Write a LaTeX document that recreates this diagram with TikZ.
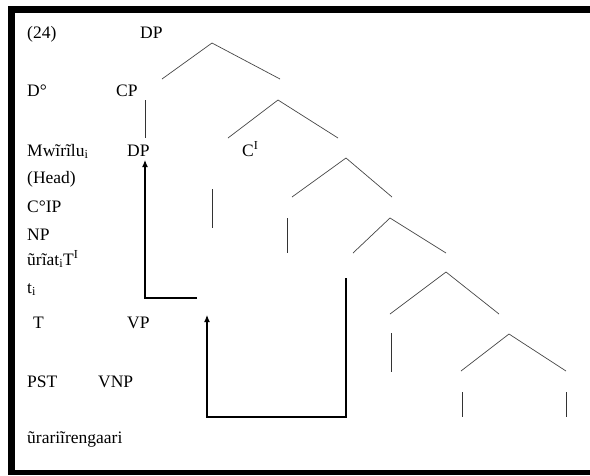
\documentclass[tikz,border=0pt]{standalone}
\usepackage{fontspec}
\setmainfont{Liberation Serif}
\usetikzlibrary{arrows.meta}

\begin{document}
\begin{tikzpicture}[x=1pt,y=-1pt,
    lbl/.style={anchor=base west,inner sep=0pt,font=\fontsize{17.5}{20}\selectfont},
    branch/.style={gray!55!black,line width=0.7pt},
    stem/.style={black!80,line width=0.9pt},
    move/.style={-{Latex[length=7pt,width=6pt]},line width=1.1pt}]
    \useasboundingbox (0,0) rectangle (590,475);

    % Frame
    \fill (8,6) rectangle (590,13);
    \fill (8,6) rectangle (15,475);
    \fill (8,470) rectangle (590,475);

    % Labels
    \node[lbl] (ex) at (27,38) {(24)};
    \node[lbl] (dpTop) at (140,38) {DP};
    \node[lbl] (dHead) at (27,96) {D°};
    \node[lbl] (cp) at (116,96) {CP};
    \node[lbl] (mwirilu) at (27,156) {Mwĩrĩlu\textsubscript{i}};
    \node[lbl] (dp) at (127,156) {DP};
    \node[lbl] (cbar) at (242,156) {C\textsuperscript{I}};
    \node[lbl] (head) at (27,183) {(Head)};
    \node[lbl] (cip) at (27,212) {C°IP};
    \node[lbl] (np) at (27,240) {NP};
    \node[lbl] (uriat) at (27,265) {ũrĩat\textsubscript{i}T\textsuperscript{I}};
    \node[lbl] (trace) at (27,293) {t\textsubscript{i}};
    \node[lbl] (tHead) at (33,328) {T};
    \node[lbl] (vp) at (127,328) {VP};
    \node[lbl] (pst) at (27,387) {PST};
    \node[lbl] (vnp) at (98,387) {VNP};
    \node[lbl] (verb) at (27,443) {ũrariĩrengaari};

    % Branch points
    \coordinate (dpRoot) at (212,43);
    \coordinate (cpRoot) at (278,100);
    \coordinate (cbarRoot) at (346,158);
    \coordinate (ipRoot) at (390,218);
    \coordinate (ibarRoot) at (446,272);
    \coordinate (vpRoot) at (509,334);

    % Branches
    \draw[branch] (162,79) -- (dpRoot) -- (280,79);
    \draw[branch] (228,138) -- (cpRoot) -- (338,138);
    \draw[branch] (292,197) -- (cbarRoot) -- (392,197);
    \draw[branch] (353,253) -- (ipRoot) -- (446,253);
    \draw[branch] (390,314) -- (ibarRoot) -- (499,314);
    \draw[branch] (461,371) -- (vpRoot) -- (566,371);

    % Unary stems
    \draw[stem] (145,100) -- (145,138);
    \draw[stem] (212,189) -- (212,228);
    \draw[stem] (287,218) -- (287,253);
    \draw[stem] (391,333) -- (391,372);
    \draw[stem] (462,392) -- (462,417);
    \draw[stem] (566,392) -- (566,417);

    % Movement arrows
    \coordinate (dpTip) at (145,160);
    \coordinate (tTip) at (207,315);
    \draw[move] (197,298) -- (145,298) -- (dpTip);
    \draw[move] (346,278) -- (346,417) -- (207,417) -- (tTip);
\end{tikzpicture}
\end{document}
